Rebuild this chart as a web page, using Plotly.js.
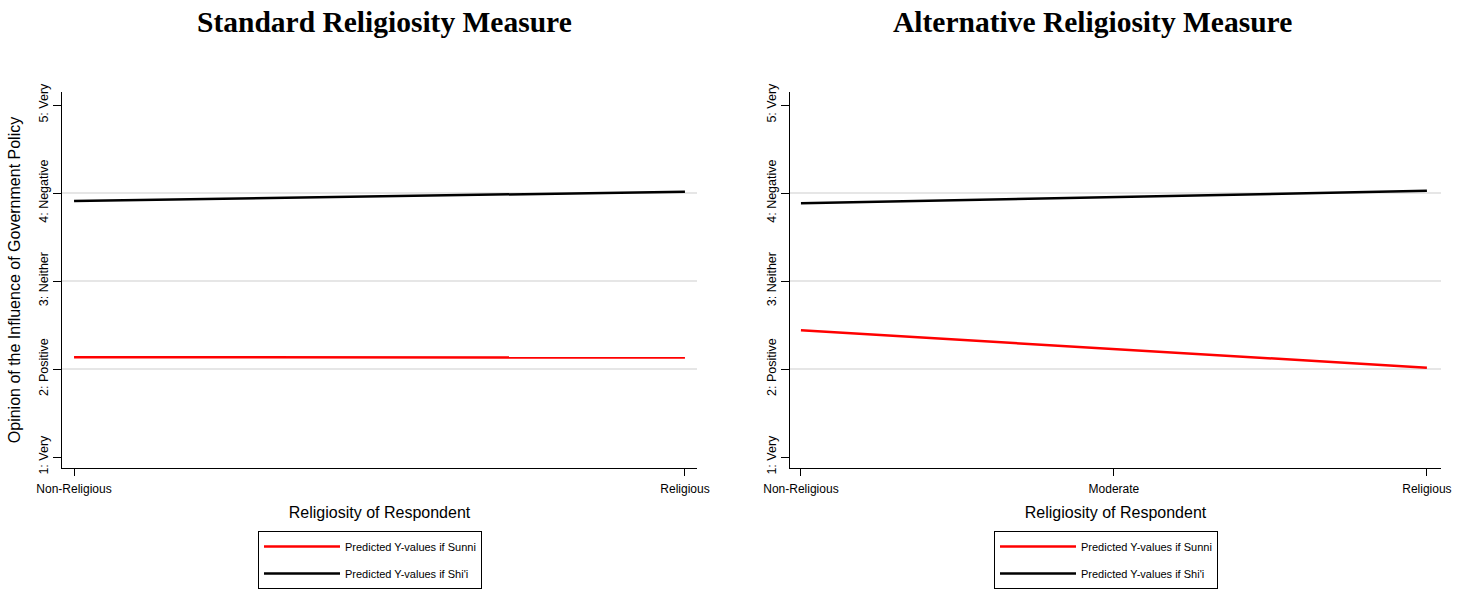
<!DOCTYPE html>
<html>
<head>
<meta charset="utf-8">
<script src="https://cdn.plot.ly/plotly-3.0.1.min.js"></script>
<style>html,body{margin:0;padding:0;background:#fff;}#chart{width:1469px;height:593px;}</style>
</head>
<body>
<div id="chart"></div>
<script>
// ---- data ----
const standardCategories = ["Non-Religious", "Religious"];
const alternativeCategories = ["Non-Religious", "Moderate", "Religious"];
const standardSunni = [2.135, 2.13];
const standardShii = [3.91, 4.015];
const alternativeSunni = [2.44, 2.228, 2.015];
const alternativeShii = [3.884, 3.955, 4.025];
const yTickValues = [1, 2, 3, 4, 5];
const yTickLabels = ["1: Very", "2: Positive", "3: Neither", "4: Negative", "5: Very"];
const gridValues = [2, 3, 4];
const panelTitles = ["Standard Religiosity Measure", "Alternative Religiosity Measure"];
const seriesNames = ["Predicted Y-values if Sunni", "Predicted Y-values if Shi'i"];
const xTitle = "Religiosity of Respondent";
const yTitle = "Opinion of the Influence of Government Policy";

const W = 1469, H = 593;
const px = v => v / W;
const py = v => (H - v) / H;

const sansFont = "Liberation Sans, Arial, sans-serif";

const traces = [
  {x: standardCategories, y: standardSunni, name: seriesNames[0], xaxis: "x", yaxis: "y",
   mode: "lines", line: {color: "#ff0000", width: 2.5}, legend: "legend", legendgroup: "a1"},
  {x: standardCategories, y: standardShii, name: seriesNames[1], xaxis: "x", yaxis: "y",
   mode: "lines", line: {color: "#000000", width: 2.5}, legend: "legend", legendgroup: "a2"},
  {x: alternativeCategories, y: alternativeSunni, name: seriesNames[0], xaxis: "x2", yaxis: "y2",
   mode: "lines", line: {color: "#ff0000", width: 2.5}, legend: "legend2", legendgroup: "b1"},
  {x: alternativeCategories, y: alternativeShii, name: seriesNames[1], xaxis: "x2", yaxis: "y2",
   mode: "lines", line: {color: "#000000", width: 2.5}, legend: "legend2", legendgroup: "b2"}
];

function xAxis(domain, range, cats, anchor) {
  return {
    domain: domain, anchor: anchor, type: "category", categoryorder: "array", categoryarray: cats,
    range: range, showline: true, linecolor: "#000", linewidth: 1, mirror: false,
    ticks: "outside", ticklen: 7, tickcolor: "#000", tickwidth: 1, ticklabelstandoff: 3,
    showgrid: false, zeroline: false, automargin: false,
    tickfont: {family: sansFont, size: 12, color: "#000"},
    title: {text: xTitle, standoff: 11, font: {family: sansFont, size: 16, color: "#000"}}
  };
}
function yAxis(domain, anchor, withTitle) {
  const a = {
    domain: domain, anchor: anchor, range: [0.875, 5.148],
    tickmode: "array", tickvals: yTickValues, ticktext: yTickLabels, tickangle: -90,
    showline: true, linecolor: "#000", linewidth: 1,
    ticks: "outside", ticklen: 8, tickcolor: "#000", tickwidth: 1,
    showgrid: false, zeroline: false, automargin: false,
    minor: {tickmode: "array", tickvals: gridValues, showgrid: true, gridcolor: "#e6e6e6", gridwidth: 1.5, ticks: ""},
    tickfont: {family: sansFont, size: 12.5, color: "#000"}
  };
  if (withTitle) a.title = {text: yTitle, font: {family: sansFont, size: 16, color: "#000"}};
  return a;
}

const yDomain = [py(468), py(92)];

const legendBase = {
  bgcolor: "#fff", bordercolor: "#000", borderwidth: 1,
  font: {family: sansFont, size: 11, color: "#000"},
  orientation: "v", itemwidth: 76, tracegroupgap: 8,
  xanchor: "left", yanchor: "top", y: py(531), traceorder: "grouped"
};

const layout = {
  width: W, height: H,
  margin: {l: 0, r: 0, t: 0, b: 0},
  paper_bgcolor: "#fff", plot_bgcolor: "#fff",
  showlegend: true,
  xaxis: xAxis([px(62), px(697)], [-0.0197, 1.0197], standardCategories, "y"),
  yaxis: yAxis(yDomain, "x", true),
  xaxis2: xAxis([px(790), px(1441)], [-0.035, 2.045], alternativeCategories, "y2"),
  yaxis2: yAxis(yDomain, "x2", false),
  legend: Object.assign({}, legendBase, {x: px(258)}),
  legend2: Object.assign({}, legendBase, {x: px(994)}),
  annotations: [
    {text: "<b>" + panelTitles[0] + "</b>", xref: "paper", yref: "paper", x: px(384), y: py(22),
     xanchor: "center", yanchor: "middle", showarrow: false,
     font: {family: "Liberation Serif, DejaVu Serif, serif", size: 29.5, color: "#000"}},
    {text: "<b>" + panelTitles[1] + "</b>", xref: "paper", yref: "paper", x: px(1092), y: py(22),
     xanchor: "center", yanchor: "middle", showarrow: false,
     font: {family: "Liberation Serif, DejaVu Serif, serif", size: 29.5, color: "#000"}}
  ]
};

Plotly.newPlot("chart", traces, layout, {displayModeBar: false, staticPlot: true});
</script>
</body>
</html>
